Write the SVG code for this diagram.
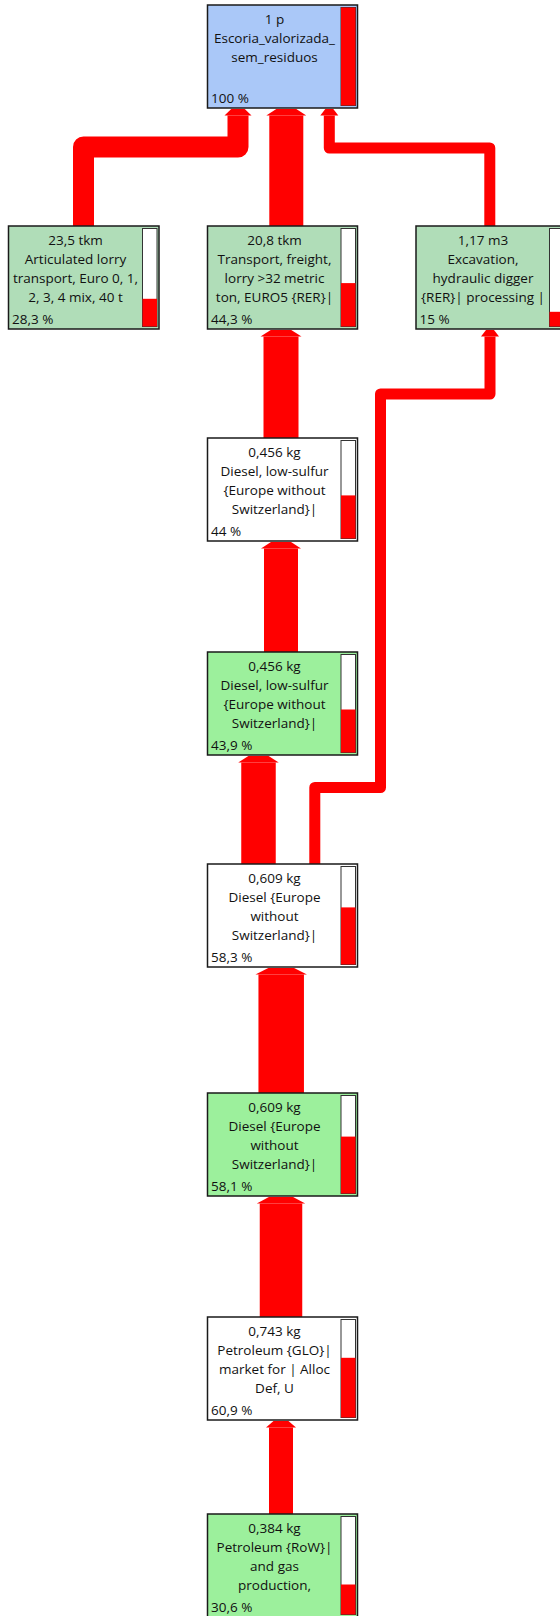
<svg xmlns="http://www.w3.org/2000/svg" width="560" height="1616" viewBox="0 0 560 1616">
<style>
.box{stroke:#1a1a1a;stroke-width:1.5}
.blue{fill:#aac8f8}
.gg{fill:#b0ddb8}
.gr{fill:#9cf09c}
.wh{fill:#ffffff}
.bar{fill:#ffffff;stroke:#333333;stroke-width:1}
.red{fill:#ff0000}
text{font-family:"Open Sans","Noto Sans",sans-serif;font-size:13.5px;fill:#111111}
.c{text-anchor:middle}
.ln{fill:none;stroke:#ff0000;stroke-linejoin:round;stroke-linecap:butt}
.hd{fill:#ff0000}
</style>
<g id="connectors">
  <!-- B -> A -->
  <path class="ln" stroke-width="21" d="M83.5 226 V147 H238 V115.5"/>
  <polygon class="hd" points="227.5,115.5 224.5,115.5 231.25,109 244.75,109 251.5,115.5 248.5,115.5"/>
  <!-- C -> A -->
  <path class="ln" stroke-width="34" d="M286.3 226 V115.5"/>
  <polygon class="hd" points="269.3,115.5 266.3,115.5 276.3,109 296.3,109 306.3,115.5 303.3,115.5"/>
  <!-- D -> A -->
  <path class="ln" stroke-width="11" d="M489.8 226 V148 H329.3 V115.5"/>
  <polygon class="hd" points="323.8,115.5 320.3,115.5 325.3,109 333.3,109 338.3,115.5 334.8,115.5"/>
  <!-- E -> C -->
  <path class="ln" stroke-width="35" d="M281 438 V336.5"/>
  <polygon class="hd" points="263.5,336.5 260.5,336.5 270.75,330 291.25,330 301.5,336.5 298.5,336.5"/>
  <!-- F -> E -->
  <path class="ln" stroke-width="34" d="M281 652 V548.5"/>
  <polygon class="hd" points="264,548.5 261,548.5 271,542 291,542 301,548.5 298,548.5"/>
  <!-- G -> F -->
  <path class="ln" stroke-width="34.5" d="M258.5 864 V762.5"/>
  <polygon class="hd" points="241.25,762.5 238.25,762.5 248.4,756 268.6,756 278.75,762.5 275.75,762.5"/>
  <!-- G -> D -->
  <path class="ln" stroke-width="11" d="M314.8 864 V787.5 H380.5 V394 H490 V336.5"/>
  <polygon class="hd" points="484.5,336.5 481,336.5 486,330 494,330 499,336.5 495.5,336.5"/>
  <!-- H -> G -->
  <path class="ln" stroke-width="45.5" d="M281.2 1093 V974.5"/>
  <polygon class="hd" points="258.45,974.5 255.45,974.5 268.3,968 294.1,968 306.95,974.5 303.95,974.5"/>
  <!-- I -> H -->
  <path class="ln" stroke-width="42.5" d="M281 1317 V1203.5"/>
  <polygon class="hd" points="259.75,1203.5 256.75,1203.5 268.9,1197 293.1,1197 305.25,1203.5 302.25,1203.5"/>
  <!-- J -> I -->
  <path class="ln" stroke-width="24" d="M281 1514 V1427.5"/>
  <polygon class="hd" points="269,1427.5 266,1427.5 273.5,1421 288.5,1421 296,1427.5 293,1427.5"/>
</g>
<g id="nodeA">
  <rect class="box blue" x="207.5" y="5" width="150" height="103"/>
  <rect class="bar" x="341" y="7.5" width="14.5" height="98"/>
  <rect class="red" x="341" y="7.5" width="14.5" height="98"/>
  <text class="c" x="274.5" y="24">1 p</text>
  <text class="c" x="274.5" y="43">Escoria_valorizada_</text>
  <text class="c" x="274.5" y="62">sem_residuos</text>
  <text x="211" y="103">100 %</text>
</g>
<g id="nodeB">
  <rect class="box gg" x="8.5" y="226" width="150.5" height="103"/>
  <rect class="bar" x="142.5" y="228.5" width="14.5" height="98"/>
  <rect class="red" x="142.5" y="298.8" width="14.5" height="27.7"/>
  <text class="c" x="75.5" y="245">23,5 tkm</text>
  <text class="c" x="75.5" y="264">Articulated lorry</text>
  <text class="c" x="75.5" y="283">transport, Euro 0, 1,</text>
  <text class="c" x="75.5" y="302">2, 3, 4 mix, 40 t</text>
  <text x="12" y="324">28,3 %</text>
</g>
<g id="nodeC">
  <rect class="box gg" x="207.5" y="226" width="150" height="103"/>
  <rect class="bar" x="341" y="228.5" width="14.5" height="98"/>
  <rect class="red" x="341" y="283.1" width="14.5" height="43.4"/>
  <text class="c" x="274.5" y="245">20,8 tkm</text>
  <text class="c" x="274.5" y="264">Transport, freight,</text>
  <text class="c" x="274.5" y="283">lorry &gt;32 metric</text>
  <text class="c" x="274.5" y="302">ton, EURO5 {RER}|</text>
  <text x="211" y="324">44,3 %</text>
</g>
<g id="nodeD">
  <rect class="box gg" x="416" y="226" width="150" height="103"/>
  <rect class="bar" x="549.5" y="228.5" width="14.5" height="98"/>
  <rect class="red" x="549.5" y="311.8" width="14.5" height="14.7"/>
  <text class="c" x="483" y="245">1,17 m3</text>
  <text class="c" x="483" y="264">Excavation,</text>
  <text class="c" x="483" y="283">hydraulic digger</text>
  <text class="c" x="483" y="302">{RER}| processing |</text>
  <text x="419.5" y="324">15 %</text>
</g>
<g id="nodeE">
  <rect class="box wh" x="207.5" y="438" width="150" height="103"/>
  <rect class="bar" x="341" y="440.5" width="14.5" height="98"/>
  <rect class="red" x="341" y="495.4" width="14.5" height="43.1"/>
  <text class="c" x="274.5" y="457">0,456 kg</text>
  <text class="c" x="274.5" y="476">Diesel, low-sulfur</text>
  <text class="c" x="274.5" y="495">{Europe without</text>
  <text class="c" x="274.5" y="514">Switzerland}|</text>
  <text x="211" y="536">44 %</text>
</g>
<g id="nodeF">
  <rect class="box gr" x="207.5" y="652" width="150" height="103"/>
  <rect class="bar" x="341" y="654.5" width="14.5" height="98"/>
  <rect class="red" x="341" y="709.5" width="14.5" height="43"/>
  <text class="c" x="274.5" y="671">0,456 kg</text>
  <text class="c" x="274.5" y="690">Diesel, low-sulfur</text>
  <text class="c" x="274.5" y="709">{Europe without</text>
  <text class="c" x="274.5" y="728">Switzerland}|</text>
  <text x="211" y="750">43,9 %</text>
</g>
<g id="nodeG">
  <rect class="box wh" x="207.5" y="864" width="150" height="103"/>
  <rect class="bar" x="341" y="866.5" width="14.5" height="98"/>
  <rect class="red" x="341" y="907.4" width="14.5" height="57.1"/>
  <text class="c" x="274.5" y="883">0,609 kg</text>
  <text class="c" x="274.5" y="902">Diesel {Europe</text>
  <text class="c" x="274.5" y="921">without</text>
  <text class="c" x="274.5" y="940">Switzerland}|</text>
  <text x="211" y="962">58,3 %</text>
</g>
<g id="nodeH">
  <rect class="box gr" x="207.5" y="1093" width="150" height="103"/>
  <rect class="bar" x="341" y="1095.5" width="14.5" height="98"/>
  <rect class="red" x="341" y="1136.6" width="14.5" height="56.9"/>
  <text class="c" x="274.5" y="1112">0,609 kg</text>
  <text class="c" x="274.5" y="1131">Diesel {Europe</text>
  <text class="c" x="274.5" y="1150">without</text>
  <text class="c" x="274.5" y="1169">Switzerland}|</text>
  <text x="211" y="1191">58,1 %</text>
</g>
<g id="nodeI">
  <rect class="box wh" x="207.5" y="1317" width="150" height="103"/>
  <rect class="bar" x="341" y="1319.5" width="14.5" height="98"/>
  <rect class="red" x="341" y="1357.8" width="14.5" height="59.7"/>
  <text class="c" x="274.5" y="1336">0,743 kg</text>
  <text class="c" x="274.5" y="1355">Petroleum {GLO}|</text>
  <text class="c" x="274.5" y="1374">market for | Alloc</text>
  <text class="c" x="274.5" y="1393">Def, U</text>
  <text x="211" y="1415">60,9 %</text>
</g>
<g id="nodeJ">
  <rect class="box gr" x="207.5" y="1514" width="150" height="103"/>
  <rect class="bar" x="341" y="1516.5" width="14.5" height="98"/>
  <rect class="red" x="341" y="1584.5" width="14.5" height="30"/>
  <text class="c" x="274.5" y="1533">0,384 kg</text>
  <text class="c" x="274.5" y="1552">Petroleum {RoW}|</text>
  <text class="c" x="274.5" y="1571">and gas</text>
  <text class="c" x="274.5" y="1590">production,</text>
  <text x="211" y="1612">30,6 %</text>
</g>
</svg>
